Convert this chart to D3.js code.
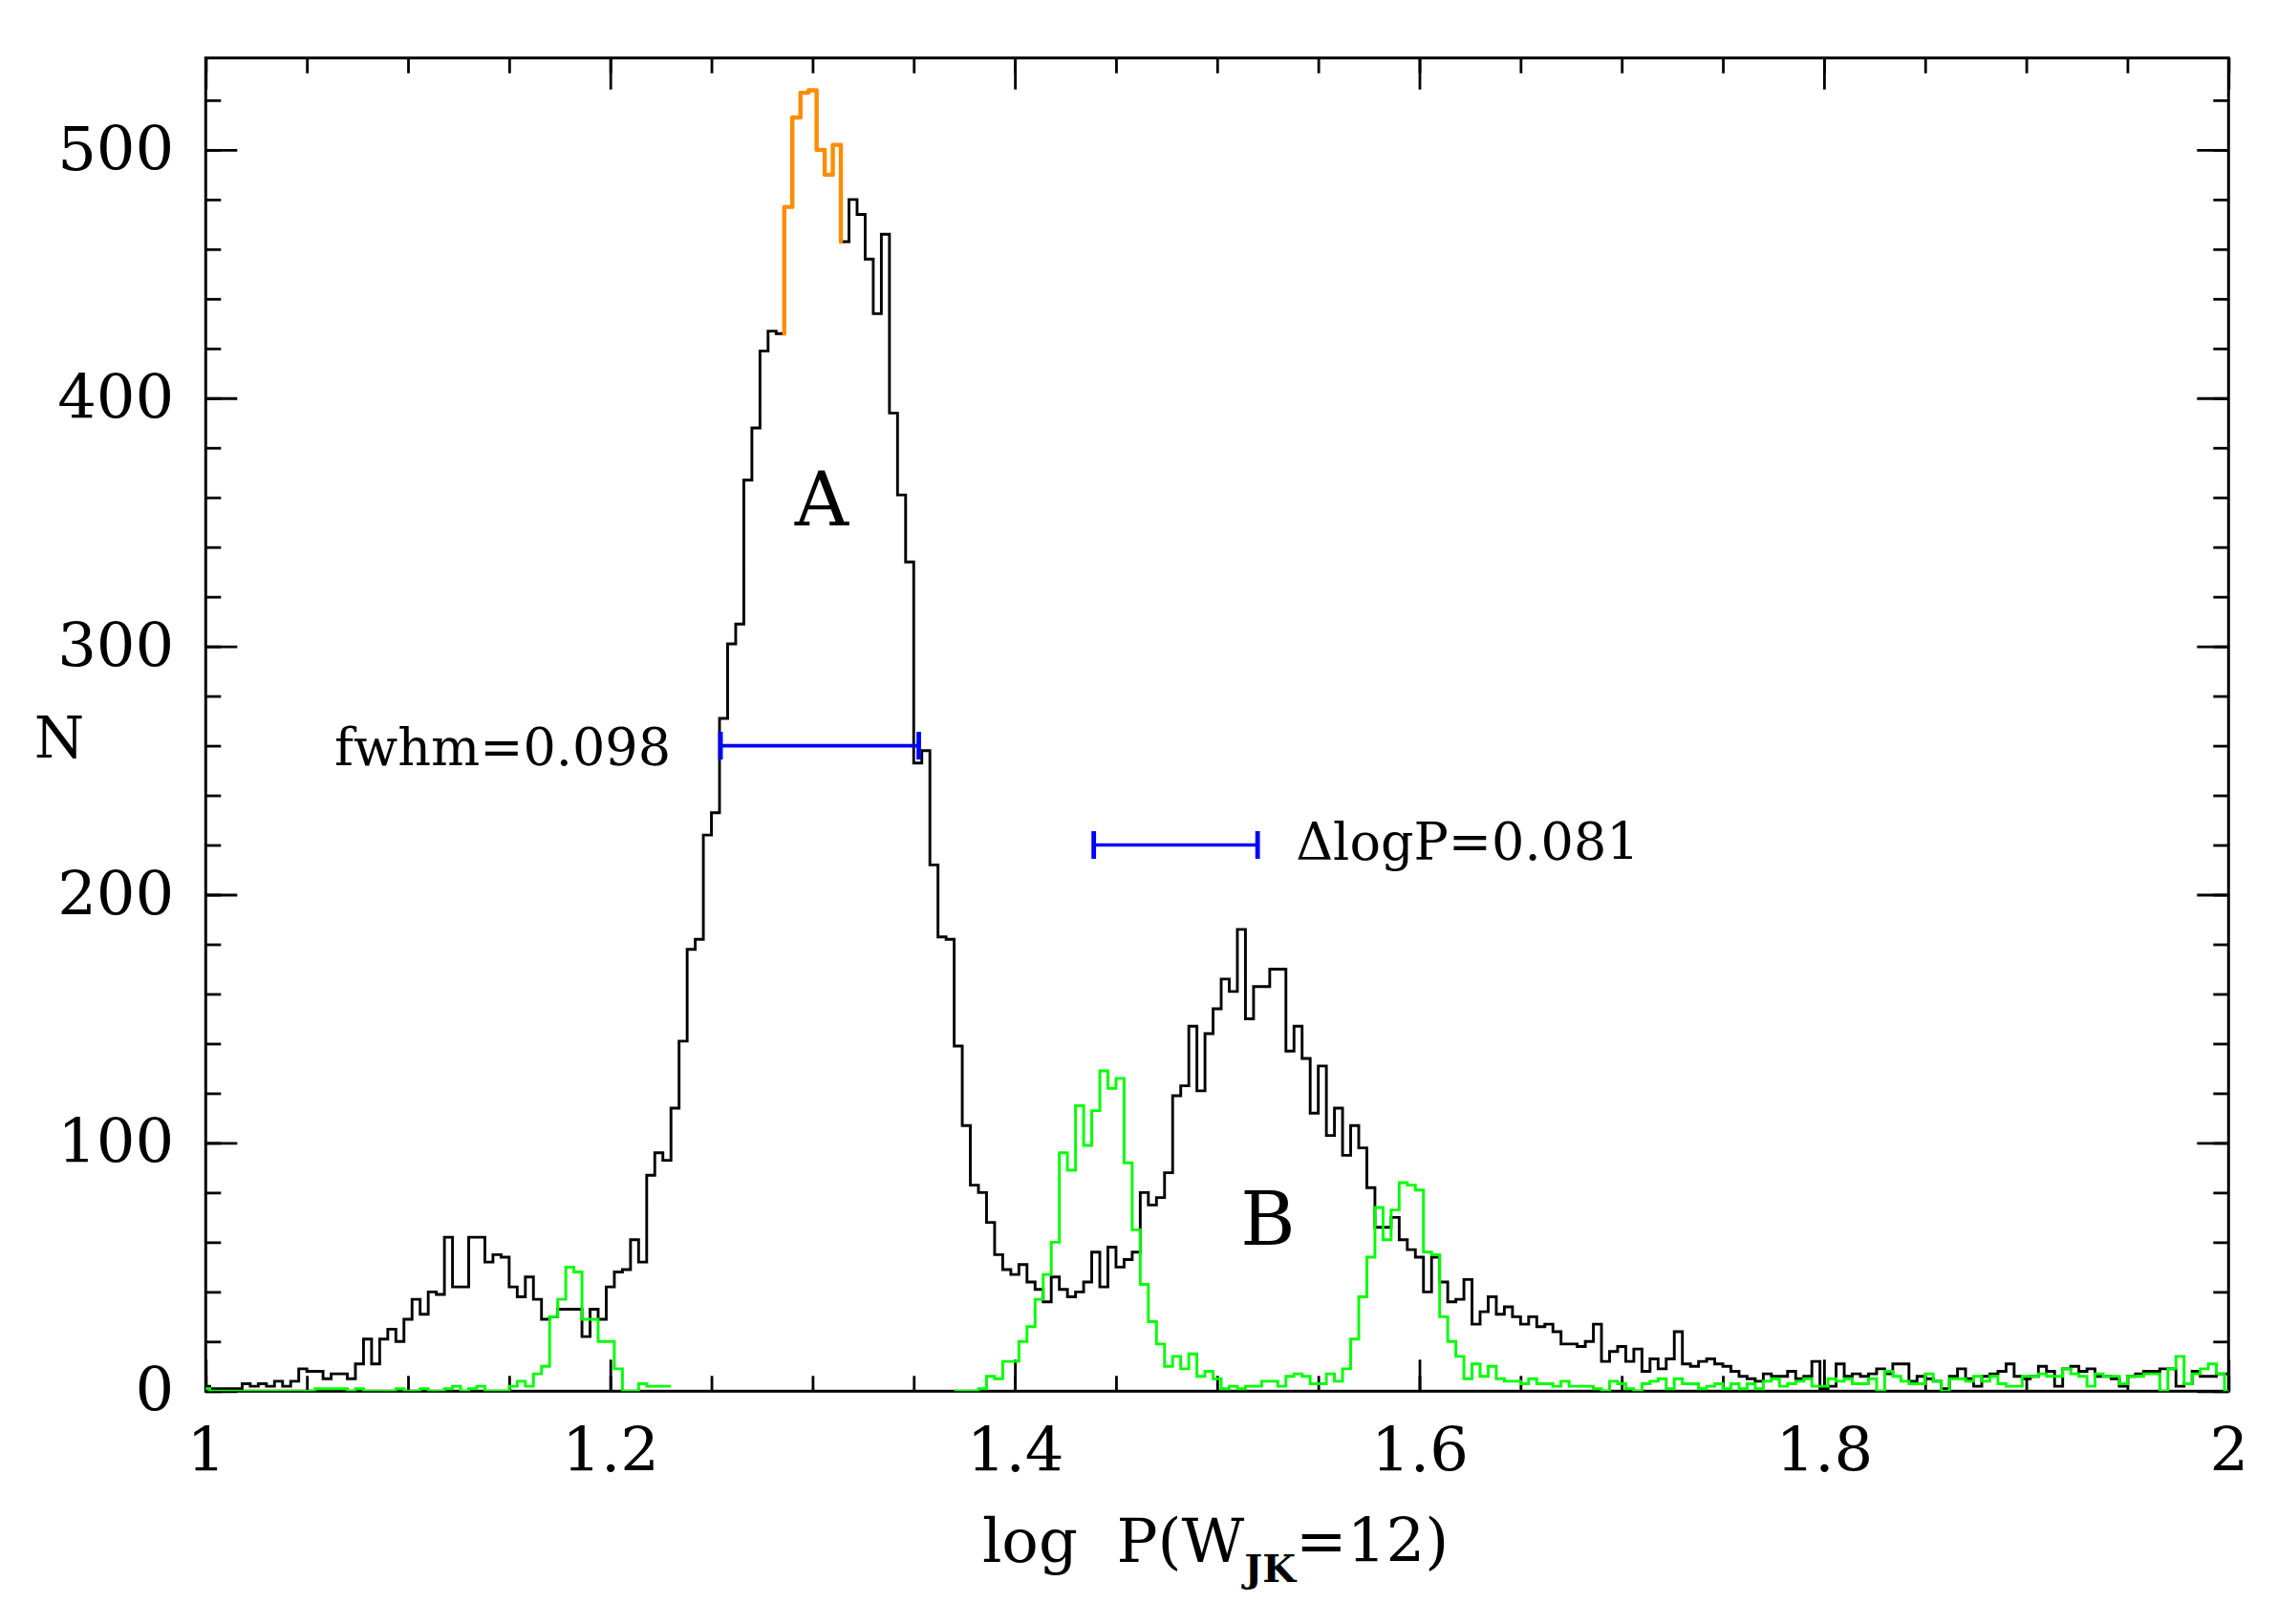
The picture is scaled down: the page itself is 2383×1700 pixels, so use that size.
<!DOCTYPE html>
<html>
<head>
<meta charset="utf-8">
<script src="https://cdn.jsdelivr.net/npm/d3@7"></script>
<style>
body { margin: 0; background: #fff; }
text { font-family: "DejaVu Serif", serif; fill: #000; }
</style>
</head>
<body>
<div id="vis"></div>
<script>
// histogram bins, bin i covers [binStart + i*binWidth, binStart + (i+1)*binWidth]
var binStart = 0.998;
var binWidth = 0.004;

// all stars (black)
var allCounts = [
    2,1,1,1,1,3,2,3,2,4,
    2,4,9,8,8,5,7,7,5,11,
    21,11,21,25,20,29,37,31,40,39,
    62,42,42,62,62,52,55,54,42,38,
    46,37,29,30,33,33,33,22,33,29,
    42,48,49,61,52,87,96,93,114,141,
    178,182,224,233,271,301,309,367,388,419,
    427,426,477,513,523,524,500,490,502,463,
    480,474,456,434,466,394,361,334,253,258,
    212,183,182,139,107,83,80,68,55,49,
    47,51,44,41,36,46,41,38,40,44,
    56,42,58,50,53,56,80,75,78,88,
    119,123,147,121,144,154,166,161,186,150,
    163,163,170,170,137,147,134,112,131,103,
    114,95,107,98,82,66,66,70,61,57,
    54,40,54,44,36,37,45,27,32,38,
    31,34,30,27,30,26,27,24,19,19,
    18,20,27,12,16,18,12,17,8,13,
    9,13,24,11,10,12,13,11,10,8,
    6,5,4,7,6,6,8,5,6,12,
    1,2,11,6,7,6,7,9,7,11,
    11,4,6,5,4,1,6,9,5,2,
    6,7,8,11,6,5,6,10,8,2,
    9,10,8,9,6,6,5,2,6,7,
    8,8,9,9,2,3,8,6,6,7,
    7
];

// second sample (green), null where it is not plotted
var otherCounts = [
    1,0,0,0,0,0,0,0,0,0,
    0,0,0,0,1,1,1,1,0,1,
    0,0,0,0,1,0,0,1,0,0,
    1,2,0,1,2,0,0,0,2,4,
    2,7,10,30,37,50,48,29,29,20,
    20,9,0,0,3,2,2,2,null,null,
    null,null,null,null,null,null,null,null,null,null,
    null,null,null,null,null,null,null,null,null,null,
    null,null,null,null,null,null,null,null,null,null,
    null,null,null,0,0,0,1,6,5,12,
    12,20,26,37,47,60,96,89,115,99,
    113,129,122,126,92,65,43,28,19,10,
    14,9,15,6,8,5,1,2,1,2,
    2,4,4,2,6,7,6,3,3,7,
    4,9,21,38,54,74,61,73,84,83,
    81,56,55,30,20,14,5,11,6,10,
    5,4,4,3,5,3,3,2,4,2,
    2,2,1,0,4,3,1,0,3,4,
    5,1,5,3,3,1,2,3,1,3,
    1,3,1,4,5,2,3,4,5,2,
    2,5,4,5,3,3,5,0,8,6,
    4,3,3,7,4,0,5,5,4,6,
    4,6,3,2,2,6,6,7,6,6,
    9,7,6,2,7,6,6,3,6,6,
    7,7,0,9,14,3,7,9,11,7,
    0
];

// part of the black histogram drawn in orange
var peakRange = [1.286, 1.314];

var xTickLabels = [1, 1.2, 1.4, 1.6, 1.8, 2];
var yTickLabels = [0, 100, 200, 300, 400, 500];
var xMinorStep = 0.05;
var yMinorStep = 20;

// blue bars
var fwhmBar = [1.2545, 1.3525];
var fwhmLevel = 260;
var dlogpBar = [1.439, 1.520];
var dlogpLevel = 220;

// plot area (note: "top" is taken by window.top)
var W = 2383, H = 1700;
var pLeft = 215.3, pRight = 2332.3, pTop = 60.7, pBottom = 1456.3;

var x = d3.scaleLinear().domain([1, 2]).range([pLeft, pRight]);
var y = d3.scaleLinear().domain([0, 537]).range([pBottom, pTop]);

var svg = d3.select("#vis").append("svg")
    .attr("width", W).attr("height", H)
    .style("background", "#fff");

svg.append("defs").append("clipPath").attr("id", "plotclip")
    .append("rect")
    .attr("x", pLeft).attr("y", pTop)
    .attr("width", pRight - pLeft).attr("height", pBottom - pTop);

// ticks, all pointing inwards
function styleAxis(g) {
    g.select(".domain").remove();
    g.selectAll("line").attr("stroke", "#000").attr("stroke-width", 2.8);
    g.attr("font-family", "DejaVu Serif, serif").attr("font-size", 64);
    g.selectAll("text").attr("fill", "#000");
}

var xMinor = d3.range(1, 2 + 1e-9, xMinorStep);
var yMinor = d3.range(0, 537, yMinorStep);

svg.append("g").attr("transform", "translate(0," + pBottom + ")")
    .call(d3.axisBottom(x).tickValues(xMinor).tickSize(-16).tickFormat(""))
    .call(styleAxis);
svg.append("g").attr("transform", "translate(0," + pBottom + ")")
    .call(d3.axisBottom(x).tickValues(xTickLabels).tickSize(-33).tickPadding(38).tickFormat(d3.format("~g")))
    .call(styleAxis);
svg.append("g").attr("transform", "translate(0," + pTop + ")")
    .call(d3.axisTop(x).tickValues(xMinor).tickSize(-16).tickFormat(""))
    .call(styleAxis);
svg.append("g").attr("transform", "translate(0," + pTop + ")")
    .call(d3.axisTop(x).tickValues(xTickLabels).tickSize(-33).tickFormat(""))
    .call(styleAxis);

svg.append("g").attr("transform", "translate(" + pLeft + ",0)")
    .call(d3.axisLeft(y).tickValues(yMinor).tickSize(-16).tickFormat(""))
    .call(styleAxis);
svg.append("g").attr("transform", "translate(" + pLeft + ",0)")
    .call(d3.axisLeft(y).tickValues(yTickLabels).tickSize(-33).tickPadding(33).tickFormat(d3.format("d")))
    .call(styleAxis);
svg.append("g").attr("transform", "translate(" + pRight + ",0)")
    .call(d3.axisRight(y).tickValues(yMinor).tickSize(-16).tickFormat(""))
    .call(styleAxis);
svg.append("g").attr("transform", "translate(" + pRight + ",0)")
    .call(d3.axisRight(y).tickValues(yTickLabels).tickSize(-33).tickFormat(""))
    .call(styleAxis);

// frame
svg.append("rect")
    .attr("x", pLeft).attr("y", pTop)
    .attr("width", pRight - pLeft).attr("height", pBottom - pTop)
    .attr("fill", "none").attr("stroke", "#000").attr("stroke-width", 3);

// histogram outline as step points
function stepPoints(counts) {
    var pts = [];
    counts.forEach(function(c, i) {
        var x0 = binStart + i * binWidth;
        pts.push([x0, c], [x0 + binWidth, c]);
    });
    return pts;
}

var line = d3.line()
    .defined(function(d) { return d[1] != null; })
    .x(function(d) { return x(d[0]); })
    .y(function(d) { return y(d[1]); });

var plot = svg.append("g").attr("clip-path", "url(#plotclip)");

var blackPts = stepPoints(allCounts);
plot.append("path").attr("d", line(blackPts))
    .attr("fill", "none").attr("stroke", "#000").attr("stroke-width", 2.9)
    .attr("stroke-linejoin", "miter");

plot.append("path").attr("d", line(stepPoints(otherCounts)))
    .attr("fill", "none").attr("stroke", "#00ff00").attr("stroke-width", 2.9);

var peakPts = blackPts.filter(function(d) {
    return d[0] > peakRange[0] - 1e-6 && d[0] < peakRange[1] + 1e-6;
});
plot.append("path").attr("d", line(peakPts))
    .attr("fill", "none").attr("stroke", "#ff8c00").attr("stroke-width", 4.4)
    .attr("stroke-linecap", "round").attr("stroke-linejoin", "round");

// blue width bars
function bar(range, level) {
    var g = svg.append("g").attr("stroke", "#0000ff");
    g.append("line")
        .attr("x1", x(range[0])).attr("x2", x(range[1]))
        .attr("y1", y(level)).attr("y2", y(level))
        .attr("stroke-width", 3.6);
    range.forEach(function(v) {
        g.append("line")
            .attr("x1", x(v)).attr("x2", x(v))
            .attr("y1", y(level) - 14.5).attr("y2", y(level) + 14.5)
            .attr("stroke-width", 4.8);
    });
}
bar(fwhmBar, fwhmLevel);
bar(dlogpBar, dlogpLevel);

svg.append("text").text("fwhm=0.098")
    .attr("x", x(fwhmBar[0]) - 52).attr("y", y(fwhmLevel) + 20)
    .attr("text-anchor", "end").attr("font-size", 54);
svg.append("text").text("\u0394logP=0.081")
    .attr("x", x(dlogpBar[1]) + 40).attr("y", y(dlogpLevel) + 15)
    .attr("font-size", 54);

// peak labels
svg.append("text").text("A").attr("x", 860).attr("y", 550)
    .attr("text-anchor", "middle").attr("font-size", 78);
svg.append("text").text("B").attr("x", 1327).attr("y", 1303)
    .attr("text-anchor", "middle").attr("font-size", 78);

// axis titles
svg.append("text").text("N").attr("x", 62).attr("y", 793)
    .attr("text-anchor", "middle").attr("font-size", 60);

var xt = svg.append("text").attr("x", 1272).attr("y", 1635)
    .attr("text-anchor", "middle").attr("font-size", 64);
xt.append("tspan").text("log\u00A0\u00A0P(W");
xt.append("tspan").text("JK").attr("font-size", 40).attr("font-weight", "bold").attr("dy", 21);
xt.append("tspan").text("=12)").attr("dy", -21);
</script>
</body>
</html>
